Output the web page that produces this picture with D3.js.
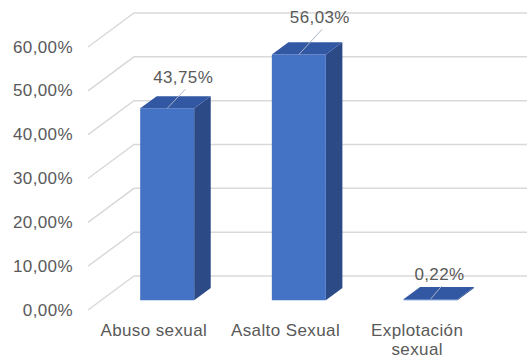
<!DOCTYPE html>
<html>
<head>
<meta charset="utf-8">
<script src="https://cdn.jsdelivr.net/npm/d3@7"></script>
<style>
  html, body { margin: 0; padding: 0; background: #ffffff; }
  svg { display: block; }
  text { font-family: "Liberation Sans", Arial, sans-serif; fill: #595959; }
</style>
</head>
<body>
<svg id="chart" width="527" height="360"></svg>
<script>
// ---- data ----
const categories = ["Abuso sexual", "Asalto Sexual", "Explotación sexual"];
const values = [43.75, 56.03, 0.22];
const yTicks = [0, 10, 20, 30, 40, 50, 60];

// ---- layout ----
const W = 527, H = 360;
const floorLeft = 88, floorRight = 483;
const yFront0 = 310, yFront60 = 47;
const depthDX = 46, depthDY = -34;      // full depth vector (front -> back wall)
const barD0 = 0.29, barD1 = 0.65;       // bar depth span (fraction of depth)
const labelShift = [[16, -31], [21, -37], [9, -25]];
const colFront = "#4472c4", colSide = "#2c4a86", colTop = "#3257a3";
const gridCol = "#d9d9d9";
const fontSize = 17;

const loc = d3.formatLocale({decimal: ",", thousands: ".", grouping: [3], currency: ["", ""]});
const fmt = v => loc.format(".2f")(v) + "%";

const svg = d3.select("#chart");

const x = d3.scaleBand().domain(categories).range([floorLeft, floorRight])
  .paddingInner(0.59).paddingOuter(0.295);
const y = d3.scaleLinear().domain([0, 60]).range([yFront0, yFront60]);

const P = (xf, v, d) => [xf + d * depthDX, y(v) + d * depthDY];
const poly = pts => "M" + pts.map(p => p.join(",")).join("L") + "Z";

// ---- gridlines (floor diagonal + back wall) ----
const grid = svg.append("g");
yTicks.forEach(t => {
  const f = P(floorLeft, t, 0), b = P(floorLeft, t, 1), r = [W, b[1]];
  grid.append("path")
    .attr("d", `M${f[0]},${f[1]}L${b[0]},${b[1]}L${r[0]},${r[1]}`)
    .attr("fill", "none").attr("stroke", gridCol).attr("stroke-width", 1.5);
});

// ---- y axis labels ----
svg.append("g").selectAll("text").data(yTicks).join("text")
  .attr("x", 73).attr("y", d => y(d))
  .attr("text-anchor", "end").attr("dominant-baseline", "central")
  .attr("font-size", fontSize).attr("letter-spacing", 0.4)
  .text(d => fmt(d));

// ---- bars ----
const bars = svg.append("g");
categories.forEach((c, i) => {
  const v = values[i];
  const x0 = x(c), x1 = x0 + x.bandwidth();
  const g = bars.append("g");
  g.append("path").attr("d", poly([P(x1, 0, barD0), P(x1, 0, barD1), P(x1, v, barD1), P(x1, v, barD0)]))
    .attr("fill", colSide);
  g.append("path").attr("d", poly([P(x0, 0, barD0), P(x1, 0, barD0), P(x1, v, barD0), P(x0, v, barD0)]))
    .attr("fill", colFront);
  g.append("path").attr("d", poly([P(x0, v, barD0), P(x1, v, barD0), P(x1, v, barD1), P(x0, v, barD1)]))
    .attr("fill", colTop);
});

// ---- data labels ----
const labs = svg.append("g");
categories.forEach((c, i) => {
  const v = values[i];
  const a = P(x(c) + x.bandwidth() / 2, v, barD0);
  const lx = a[0] + labelShift[i][0], ly = a[1] + labelShift[i][1];
  labs.append("line")
    .attr("x1", a[0]).attr("y1", a[1]).attr("x2", lx + 2).attr("y2", ly + 12)
    .attr("stroke", "#a9b4c8").attr("stroke-width", 1);
  labs.append("text")
    .attr("x", lx).attr("y", ly)
    .attr("text-anchor", "middle").attr("dominant-baseline", "central")
    .attr("font-size", fontSize).attr("letter-spacing", 0.4)
    .text(fmt(v));
});

// ---- category labels (wrapped) ----
const cat = svg.append("g");
categories.forEach(c => {
  const cx = x(c) + x.bandwidth() / 2;
  const t = cat.append("text").attr("text-anchor", "middle")
    .attr("font-size", fontSize).attr("letter-spacing", 0.4);
  const words = c.split(" ");
  let lines = [], cur = [];
  const probe = cat.append("text").attr("font-size", fontSize).attr("letter-spacing", 0.4);
  words.forEach(w => {
    const test = cur.concat([w]).join(" ");
    probe.text(test);
    if (probe.node().getComputedTextLength() > x.step() && cur.length) {
      lines.push(cur.join(" ")); cur = [w];
    } else cur.push(w);
  });
  lines.push(cur.join(" "));
  probe.remove();
  lines.forEach((ln, k) => {
    t.append("tspan").attr("x", cx).attr("y", 336 + k * 19).text(ln);
  });
});
</script>
</body>
</html>
